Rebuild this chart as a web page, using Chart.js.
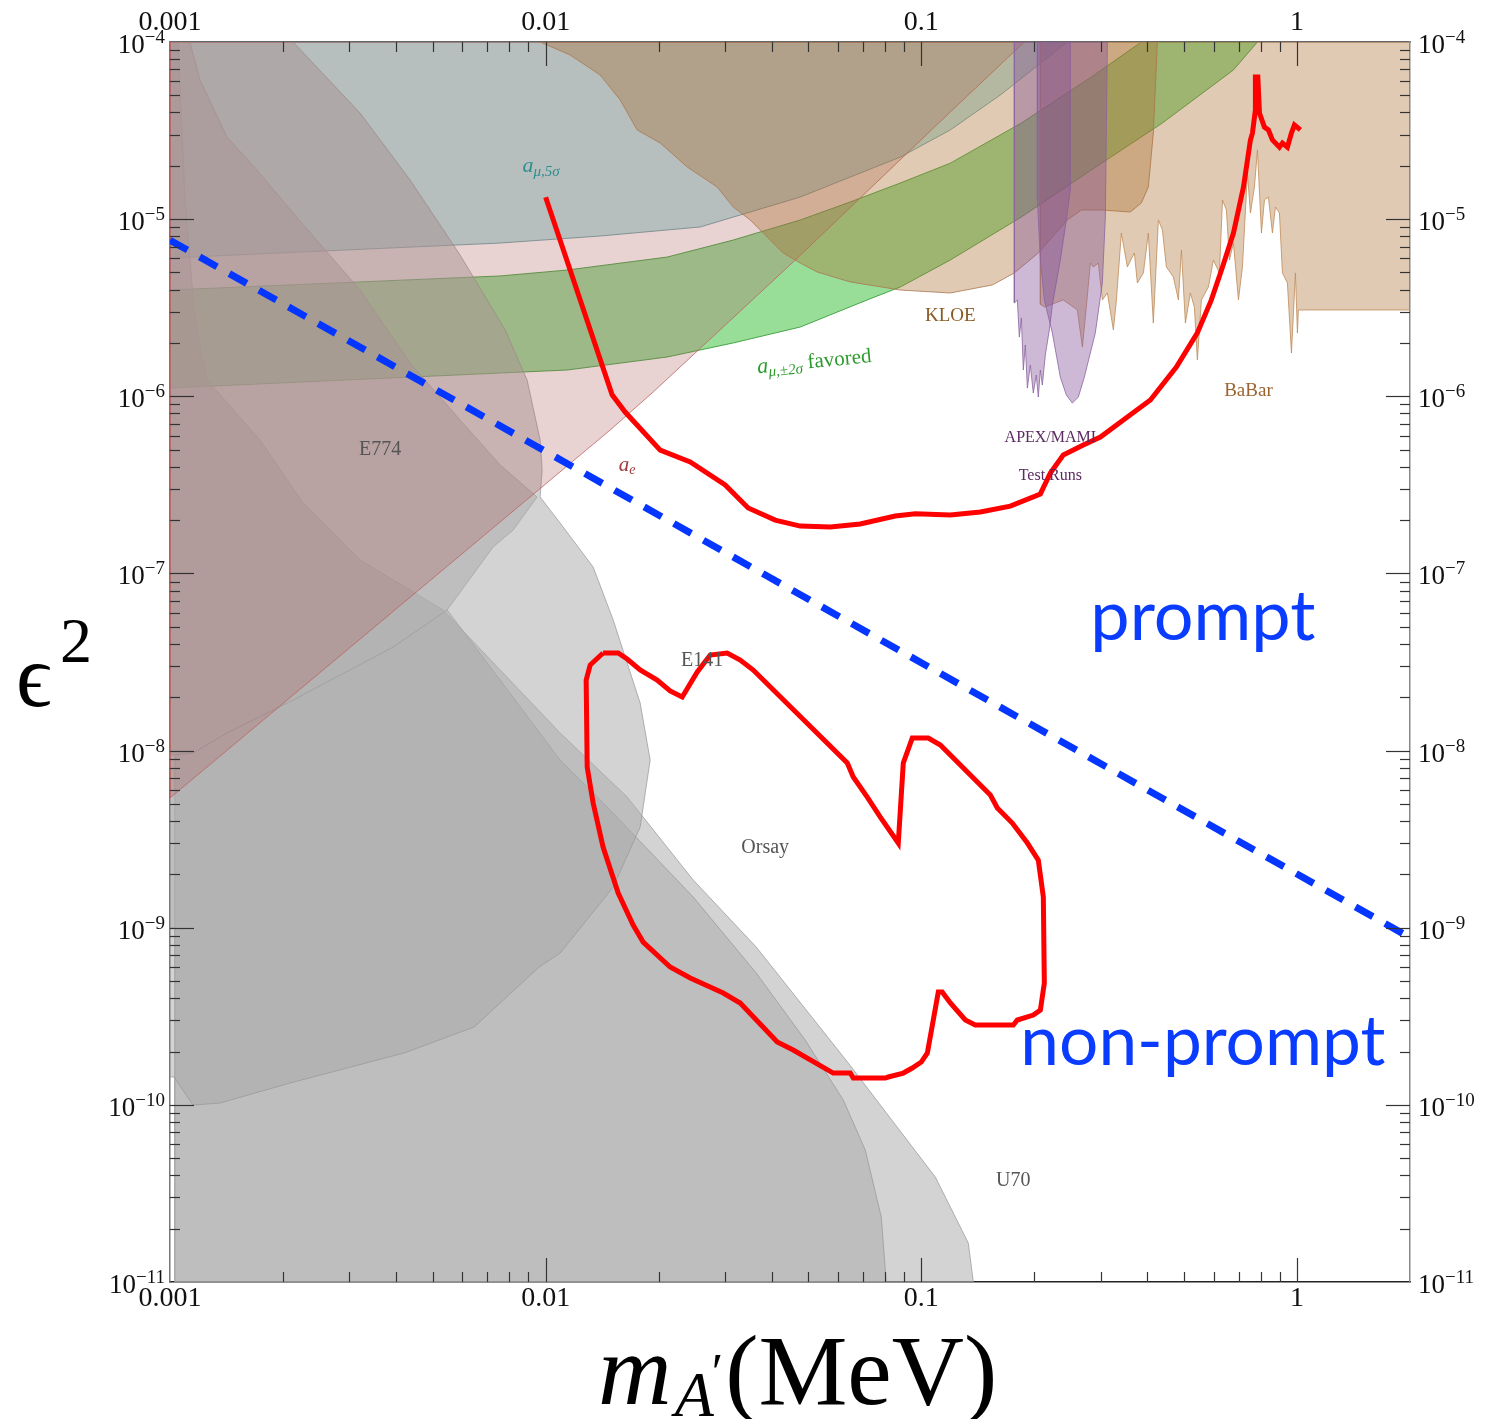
<!DOCTYPE html>
<html><head><meta charset="utf-8">
<script src="https://cdn.jsdelivr.net/npm/chart.js@4.4.1/dist/chart.umd.min.js"></script>
<style>html,body{margin:0;padding:0;background:#fff;}canvas{display:block;}</style>
</head><body>
<canvas id="c" width="1503" height="1419"></canvas>
<script>
// ---------- data: [mass, eps^2] pairs ----------
const MASS_RANGE = [0.001, 2];
const EPS_RANGE = [1e-11, 1e-4];
const MASS_TICK_LABELS = ['0.001', '0.01', '0.1', '1'];
const MASS_TICKS = [0.001, 0.01, 0.1, 1];
const EPS_TICK_EXPONENTS = [-4, -5, -6, -7, -8, -9, -10, -11];

const BEAMDUMP_OUTER = [[0.001,1e-4],[0.00105,1e-4],[0.001096,1.283e-5],[0.001166,2.7e-6],[0.001255,1.235e-6],[0.001736,5.66e-7],[0.00226,2.5e-7],[0.003206,1.19e-7],[0.005334,6.22e-8],[0.007566,2.849e-8],[0.01093,1.257e-8],[0.01648,5.47e-9],[0.02471,1.859e-9],[0.03636,7.78e-10],[0.06393,1.722e-10],[0.109,3.91e-11],[0.1334,1.66e-11],[0.1376,1e-11],[0.00103,1e-11],[0.00103,1e-9],[0.001,1e-9],[0.001,1e-4]];
const BEAMDUMP_INNER = [[0.00103,9.44e-9],[0.001151,9.69e-9],[0.001418,1.257e-8],[0.002126,1.929e-8],[0.003925,3.84e-8],[0.005467,6.22e-8],[0.007566,2.502e-8],[0.01093,8.84e-9],[0.01485,4.62e-9],[0.02471,1.49e-9],[0.03636,5.55e-10],[0.0491,2.32e-10],[0.06199,1.065e-10],[0.07094,5.56e-11],[0.07825,2.33e-11],[0.08068,1e-11],[0.00103,1e-11],[0.00103,9.44e-9]];
const E774 = [[0.001,1e-4],[0.00113,1e-4],[0.001202,6.1e-5],[0.001418,2.91e-5],[0.001704,1.894e-5],[0.002126,1.083e-5],[0.003206,3.98e-6],[0.004356,1.541e-6],[0.00592,7.35e-7],[0.007566,4.09e-7],[0.009492,2.7e-7],[0.008196,1.758e-7],[0.007249,1.41e-7],[0.005467,6.22e-8],[0.003925,3.84e-8],[0.002126,1.929e-8],[0.001418,1.257e-8],[0.001151,9.69e-9],[0.001,9.44e-9],[0.001,1e-4]];
const E141 = [[0.001,1e-4],[0.002126,1e-4],[0.003206,3.97e-5],[0.004356,1.663e-5],[0.00592,6.27e-6],[0.007801,2.37e-6],[0.008926,1.235e-6],[0.009669,5.66e-7],[0.009788,3.84e-7],[0.009669,2.7e-7],[0.01093,1.926e-7],[0.01338,1.087e-7],[0.01513,5.46e-8],[0.01785,1.855e-8],[0.01898,8.84e-9],[0.01785,3.7e-9],[0.01513,1.697e-9],[0.01093,7.2e-10],[0.009609,6.0e-10],[0.00645,2.75e-10],[0.0042,1.962e-10],[0.002087,1.328e-10],[0.001359,1.024e-10],[0.001151,9.98e-11],[0.001025,1.436e-10],[0.001,1.436e-10],[0.001,1e-4]];

const AMU_FAVORED_UPPER = [[0.001,3.98e-6],[0.007566,4.78e-6],[0.01141,5.16e-6],[0.02107,6.11e-6],[0.03157,7.62e-6],[0.04762,9.89e-6],[0.0647,1.25e-5],[0.08794,1.6e-5],[0.1195,2.07e-5],[0.1847,3.49e-5],[0.2836,6.34e-5],[0.3853,1e-4]];
const AMU_FAVORED_LOWER = [[0.7851,1e-4],[0.6776,6.95e-5],[0.4384,3.49e-5],[0.2836,1.894e-5],[0.1847,1.028e-5],[0.1195,5.88e-6],[0.08794,4.14e-6],[0.07181,3.5e-6],[0.04762,2.46e-6],[0.03157,2.0e-6],[0.02107,1.666e-6],[0.01141,1.407e-6],[0.007566,1.353e-6],[0.001,1.113e-6]];
const AE_EXCLUDED = [[0.001,5.4e-9],[0.01485,6.45e-7],[0.01933,1.057e-6],[0.04561,5.73e-6],[0.1195,4.03e-5],[0.1881,1e-4],[0.001,1e-4],[0.001,5.4e-9]];
const AMU_5SIGMA = [[0.001,6.03e-6],[0.002219,6.52e-6],[0.007566,7.33e-6],[0.01397,8.03e-6],[0.02579,9.03e-6],[0.04762,1.333e-5],[0.08794,2.24e-5],[0.1195,3.19e-5],[0.1623,5.02e-5],[0.2447,1e-4],[0.001,1e-4],[0.001,6.03e-6]];
const KLOE = [[0.009669,1e-4],[0.01162,8.45e-5],[0.01397,6.51e-5],[0.01579,4.71e-5],[0.01752,3.19e-5],[0.02018,2.69e-5],[0.02382,1.97e-5],[0.02862,1.518e-5],[0.03157,1.171e-5],[0.03505,9.89e-6],[0.0389,7.93e-6],[0.0429,6.44e-6],[0.04762,5.65e-6],[0.05284,5.03e-6],[0.0647,4.42e-6],[0.08794,3.98e-6],[0.1195,3.83e-6],[0.1546,4.25e-6],[0.1769,4.97e-6],[0.2049,6.44e-6],[0.2447,9.89e-6],[0.2668,1.126e-5],[0.3034,1.126e-5],[0.3602,1.097e-5],[0.3853,1.234e-5],[0.4022,1.518e-5],[0.4147,3.06e-5],[0.4251,1e-4],[0.009669,1e-4]];
const BABAR = [[0.2075,1e-4],[0.2075,3.3e-6],[0.2126,3.19e-6],[0.2388,3.5e-6],[0.2493,3.28e-6],[0.2603,3.07e-6],[0.2685,1.897e-6],[0.275,3.19e-6],[0.2819,5.65e-6],[0.2871,5.37e-6],[0.2961,5.65e-6],[0.3034,3.5e-6],[0.3129,3.83e-6],[0.3246,2.37e-6],[0.3307,3.5e-6],[0.3409,8.35e-6],[0.3537,5.37e-6],[0.3692,6.44e-6],[0.3761,4.36e-6],[0.3902,4.97e-6],[0.4022,8.35e-6],[0.4147,2.59e-6],[0.4278,9.89e-6],[0.4384,8.69e-6],[0.4493,5.37e-6],[0.469,4.71e-6],[0.4836,3.5e-6],[0.4926,6.69e-6],[0.5048,2.59e-6],[0.5205,3.83e-6],[0.5333,3.19e-6],[0.5432,1.602e-6],[0.5568,3.5e-6],[0.5812,4.14e-6],[0.5993,5.88e-6],[0.6218,4.97e-6],[0.6337,1.283e-5],[0.6491,1.126e-5],[0.6612,5.88e-6],[0.6777,7.33e-6],[0.6987,3.5e-6],[0.7161,5.37e-6],[0.7384,1.822e-5],[0.752,1.083e-5],[0.7707,1.518e-5],[0.7851,2.46e-5],[0.8046,8.35e-6],[0.8194,1.283e-5],[0.8395,1.333e-5],[0.8606,8.35e-6],[0.8765,1.171e-5],[0.8984,1.083e-5],[0.915,4.97e-6],[0.9434,4.36e-6],[0.967,1.755e-6],[0.9909,4.97e-6],[1.003,2.28e-6],[1.009,3.07e-6],[2.0,3.07e-6],[2.0,1e-4],[0.2075,1e-4]];
const APEX_SPIKY = [[0.1769,1e-4],[0.1769,3.36e-6],[0.1802,3.5e-6],[0.1824,2.16e-6],[0.1847,2.77e-6],[0.1869,1.407e-6],[0.1892,1.948e-6],[0.1916,1.113e-6],[0.1951,1.502e-6],[0.1987,1.043e-6],[0.2024,1.318e-6],[0.2049,9.9e-7],[0.2075,1.407e-6],[0.21,1.158e-6],[0.2139,1.71e-6],[0.2192,2.37e-6],[0.2233,3.28e-6],[0.2345,5.88e-6],[0.2433,9.89e-6],[0.2493,1.461e-5],[0.2493,1e-4],[0.1769,1e-4]];
const APEX_OVAL = [[0.2037,1e-4],[0.2037,1.283e-5],[0.2075,5.88e-6],[0.2126,3.5e-6],[0.2233,2.28e-6],[0.2345,1.284e-6],[0.2433,1.017e-6],[0.2524,9.16e-7],[0.2619,9.9e-7],[0.2717,1.284e-6],[0.2906,2.28e-6],[0.3034,4.36e-6],[0.309,1.028e-5],[0.3129,1e-4],[0.2037,1e-4]];

const REACH_PROMPT = [[0.01,1.33e-5],[0.01503,1.02e-6],[0.01628,8.15e-7],[0.02018,4.97e-7],[0.02426,4.26e-7],[0.03006,3.16e-7],[0.03461,2.34e-7],[0.04084,2.0e-7],[0.04762,1.85e-7],[0.05725,1.83e-7],[0.06879,1.9e-7],[0.08524,2.11e-7],[0.0964,2.17e-7],[0.1195,2.14e-7],[0.1436,2.22e-7],[0.1726,2.4e-7],[0.2075,2.81e-7],[0.2206,3.69e-7],[0.2388,4.66e-7],[0.27,5.31e-7],[0.2998,5.89e-7],[0.3451,7.35e-7],[0.4073,9.53e-7],[0.4776,1.463e-6],[0.5432,2.28e-6],[0.5919,3.5e-6],[0.6337,5.37e-6],[0.6777,8.35e-6],[0.7206,1.518e-5],[0.752,2.8e-5],[0.7614,3.06e-5],[0.7752,4.13e-5],[0.7752,6.34e-5],[0.787,6.34e-5],[0.7949,3.97e-5],[0.8194,3.31e-5],[0.8395,3.19e-5],[0.8606,2.8e-5],[0.8984,2.55e-5],[0.915,2.69e-5],[0.9434,2.55e-5],[0.967,3.06e-5],[0.9848,3.4e-5],[1.0217,3.19e-5]];
const REACH_DISPLACED = [[0.01422,3.555e-8],[0.0156,3.555e-8],[0.01648,3.287e-8],[0.01785,2.849e-8],[0.01981,2.502e-8],[0.02145,2.169e-8],[0.0231,2.006e-8],[0.02533,2.776e-8],[0.02742,3.463e-8],[0.03043,3.555e-8],[0.03296,3.245e-8],[0.0357,2.849e-8],[0.06354,8.506e-9],[0.06591,7.09e-9],[0.07181,5.466e-9],[0.07779,4.214e-9],[0.08685,3.006e-9],[0.08956,8.506e-9],[0.09463,1.177e-8],[0.1044,1.177e-8],[0.1124,1.075e-8],[0.1527,5.61e-9],[0.1594,4.739e-9],[0.1747,3.899e-9],[0.1916,3.006e-9],[0.2049,2.41e-9],[0.2113,1.49e-9],[0.2126,4.873e-10],[0.2075,3.43e-10],[0.1987,3.215e-10],[0.1802,3.013e-10],[0.1758,2.823e-10],[0.1392,2.823e-10],[0.131,3.013e-10],[0.1195,3.757e-10],[0.1137,4.335e-10],[0.111,4.335e-10],[0.1038,1.962e-10],[0.1,1.745e-10],[0.09463,1.614e-10],[0.08956,1.512e-10],[0.08168,1.436e-10],[0.08019,1.417e-10],[0.06591,1.417e-10],[0.0647,1.512e-10],[0.05829,1.512e-10],[0.04561,2.04e-10],[0.04136,2.263e-10],[0.03296,3.757e-10],[0.0297,4.279e-10],[0.02426,5.2e-10],[0.02145,6.0e-10],[0.01818,8.3e-10],[0.0171,1.035e-9],[0.0156,1.57e-9],[0.01422,2.855e-9],[0.01338,5.058e-9],[0.0129,8.07e-9],[0.01282,2.502e-8],[0.01314,3.041e-8],[0.01422,3.555e-8]];
const PROMPT_DIVIDER = [[0.001,7.6e-6],[2.0,8.8e-10]];

// ---------- text annotations (anchored in data coordinates) ----------
const REGION_LABELS = [
  {runs:[['E774','r',20]], m:0.003625, e:4.97e-7, color:'#555555'},
  {runs:[['E141','r',20]], m:0.02611, e:3.2e-8, color:'#555555'},
  {runs:[['Orsay','r',20]], m:0.03842, e:2.82e-9, color:'#555555'},
  {runs:[['U70','r',20]], m:0.1758, e:3.72e-11, color:'#555555'},
  {runs:[['KLOE','r',19]], m:0.1195, e:2.84e-6, color:'#8b5a24'},
  {runs:[['BaBar','r',19]], m:0.7429, e:1.071e-6, color:'#9a6530'},
  {runs:[['APEX/MAMI','r',16]], m:0.2206, e:5.81e-7, color:'#5a2a60'},
  {runs:[['Test Runs','r',16]], m:0.2206, e:3.55e-7, color:'#5a2a60'},
  {runs:[['a','i',22,0],['μ,5σ','i',15,6]], m:0.00973, e:2.0e-5, color:'#2f8f8f'},
  {runs:[['a','i',21,0],['e','i',14,5]], m:0.01648, e:4.09e-7, color:'#a03a3a'},
  {runs:[['a','i',22,0],['μ,±2σ','i',15,6],[' favored','r',21,0]], m:0.0519, e:1.56e-6, color:'#2d9a2d', rot:-0.095},
];
const REGIME_LABELS = [
  {text:'prompt', m:0.2818, e:4.21e-8, width:225},
  {text:'non-prompt', m:0.1835, e:1.679e-10, width:365},
];

const SERIF = '"Liberation Serif","Times New Roman",serif';
const pts = a => a.map(([x, y]) => ({x, y}));

function region(data, fillColor, lineColor, order) {
  return {data: pts(data), showLine: true, fill: 'shape', backgroundColor: fillColor,
    borderColor: lineColor, borderWidth: 1, pointRadius: 0, tension: 0, order};
}
const GRAY = 'rgba(171,171,171,0.52)', GRAY_EDGE = 'rgba(150,150,150,0.7)';

const datasets = [
  region(AMU_FAVORED_UPPER.concat(AMU_FAVORED_LOWER, [AMU_FAVORED_UPPER[0]]), 'rgba(49,187,49,0.5)', 'rgba(40,150,40,0.8)', 100),
  region(AMU_5SIGMA, 'rgba(83,185,185,0.4)', 'rgba(90,150,155,0.8)', 95),
  region(BEAMDUMP_OUTER, GRAY, GRAY_EDGE, 90),
  region(BEAMDUMP_INNER, GRAY, GRAY_EDGE, 89),
  region(E774, GRAY, GRAY_EDGE, 88),
  region(E141, GRAY, GRAY_EDGE, 87),
  region(AE_EXCLUDED, 'rgba(170,90,90,0.27)', 'rgba(190,100,100,0.8)', 80),
  region(KLOE, 'rgba(170,110,50,0.37)', 'rgba(170,120,80,0.8)', 70),
  region(BABAR, 'rgba(170,110,50,0.37)', 'rgba(190,140,90,0.8)', 69),
  region(APEX_SPIKY, 'rgba(130,80,150,0.4)', 'rgba(140,100,160,0.8)', 60),
  region(APEX_OVAL, 'rgba(130,80,150,0.4)', 'rgba(140,100,160,0.8)', 59),
  {data: pts(REACH_PROMPT), showLine: true, fill: false, borderColor: '#ff0000', borderWidth: 5, pointRadius: 0, tension: 0, order: 20},
  {data: pts(REACH_DISPLACED), showLine: true, fill: false, borderColor: '#ff0000', borderWidth: 5, pointRadius: 0, tension: 0, order: 19},
  {data: pts(PROMPT_DIVIDER), showLine: true, fill: false, borderColor: '#0536ff', borderWidth: 7, borderDash: [20, 14], pointRadius: 0, tension: 0, order: 10},
];

const massLabel = v => { const i = MASS_TICKS.findIndex(t => Math.abs(t - v) / t < 1e-6); return i >= 0 ? MASS_TICK_LABELS[i] : ''; };

function drawRuns(ctx, runs, x, y, align) {
  let w = 0;
  const rs = runs.map(([t, st, size, dy]) => {
    const font = (st === 'i' ? 'italic ' : '') + size + 'px ' + SERIF;
    ctx.font = font; const rw = ctx.measureText(t).width; w += rw;
    return {t, font, rw, dy: dy || 0};
  });
  let cx = align === 'center' ? x - w / 2 : (align === 'right' ? x - w : x);
  for (const r of rs) { ctx.font = r.font; ctx.fillText(r.t, cx, y + r.dy); cx += r.rw; }
}

const decor = {
  id: 'decor',
  afterDatasetsDraw(chart) {
    const ctx = chart.ctx, xs = chart.scales.x, ys = chart.scales.y;
    ctx.save();
    ctx.textBaseline = 'middle'; ctx.textAlign = 'left';
    for (const L of REGION_LABELS) {
      const px = xs.getPixelForValue(L.m), py = ys.getPixelForValue(L.e);
      ctx.fillStyle = L.color;
      ctx.save(); ctx.translate(px, py); if (L.rot) ctx.rotate(L.rot);
      drawRuns(ctx, L.runs, 0, 0, 'center');
      ctx.restore();
    }
    ctx.fillStyle = '#0a3cff'; ctx.textBaseline = 'alphabetic';
    for (const L of REGIME_LABELS) {
      ctx.font = '100px Lato, "Open Sans", sans-serif';
      const s = 100 * L.width / ctx.measureText(L.text).width;
      ctx.font = s.toFixed(1) + 'px Lato, "Open Sans", sans-serif';
      ctx.fillText(L.text, xs.getPixelForValue(L.m), ys.getPixelForValue(L.e));
    }
    ctx.restore();
  },
  afterDraw(chart) {
    const ctx = chart.ctx, a = chart.chartArea, xs = chart.scales.x, ys = chart.scales.y;
    ctx.save();
    ctx.strokeStyle = '#333'; ctx.lineWidth = 1.2;
    const line = (x1, y1, x2, y2) => { ctx.beginPath(); ctx.moveTo(x1, y1); ctx.lineTo(x2, y2); ctx.stroke(); };
    for (let d = -3; d <= 0; d++) for (let k = 1; k <= 9; k++) {
      const v = k * Math.pow(10, d); if (v > MASS_RANGE[1] * 0.999) break;
      const px = Math.round(xs.getPixelForValue(v)) + 0.5, L = k === 1 ? 24 : 10;
      if (px <= a.left + 1) continue;
      line(px, a.bottom, px, a.bottom - L); line(px, a.top, px, a.top + L);
    }
    for (let d = -11; d <= -4; d++) for (let k = 1; k <= 9; k++) {
      const v = k * Math.pow(10, d); if (v > EPS_RANGE[1] * 1.001) break;
      const py = Math.round(ys.getPixelForValue(v)) + 0.5, L = k === 1 ? 24 : 10;
      if (py >= a.bottom - 1 || py <= a.top + 1) continue;
      line(a.left, py, a.left + L, py); line(a.right, py, a.right - L, py);
    }
    // y tick labels 10^n
    ctx.fillStyle = '#111'; ctx.textBaseline = 'alphabetic'; ctx.textAlign = 'left';
    for (const n of EPS_TICK_EXPONENTS) {
      const py = ys.getPixelForValue(Math.pow(10, n));
      const sup = '\u2212' + (-n);
      ctx.font = '27px ' + SERIF; const wb = ctx.measureText('10').width;
      ctx.font = '19px ' + SERIF; const ws = ctx.measureText(sup).width;
      const xl = a.left - 5 - wb - ws;
      ctx.font = '27px ' + SERIF; ctx.fillText('10', xl, py + 11);
      ctx.font = '19px ' + SERIF; ctx.fillText(sup, xl + wb, py + 1);
      const xr = a.right + 8;
      ctx.font = '27px ' + SERIF; ctx.fillText('10', xr, py + 11);
      ctx.font = '19px ' + SERIF; ctx.fillText(sup, xr + wb, py + 1);
    }
    // axis titles
    ctx.fillStyle = '#000';
    ctx.font = '88px ' + SERIF; ctx.fillText('\u03f5', 16, 706);
    ctx.font = '64px ' + SERIF; ctx.fillText('2', 60, 662);
    let x = 598;
    ctx.font = 'italic 102px ' + SERIF; ctx.fillText('m', x, 1404); x += ctx.measureText('m').width + 3;
    ctx.font = 'italic 64px ' + SERIF; ctx.fillText('A', x, 1416); x += ctx.measureText('A').width;
    ctx.font = '52px ' + SERIF; ctx.fillText('\u2032', x - 2, 1390); x += ctx.measureText('\u2032').width;
    ctx.font = '100px ' + SERIF; ctx.fillText('(MeV)', x, 1404);
    ctx.restore();
  }
};

const axisCommon = (pos, range) => ({
  type: 'logarithmic', position: pos, min: range[0], max: range[1],
  grid: {display: false, drawTicks: false},
});

new Chart(document.getElementById('c'), {
  type: 'scatter',
  data: {datasets},
  options: {
    responsive: false, animation: false, devicePixelRatio: 1,
    layout: {padding: 0},
    plugins: {legend: {display: false}, tooltip: {enabled: false}},
    scales: {
      x: Object.assign(axisCommon('bottom', MASS_RANGE), {
        border: {display: true, color: '#222', width: 1.5},
        ticks: {autoSkip: false, maxRotation: 0, padding: 0, color: '#111', font: {family: SERIF, size: 28}, callback: v => massLabel(v)},
        afterFit: s => { s.height = 137; }
      }),
      x2: Object.assign(axisCommon('top', MASS_RANGE), {
        border: {display: true, color: '#666', width: 1.5},
        ticks: {autoSkip: false, maxRotation: 0, padding: 3, color: '#111', font: {family: SERIF, size: 28}, callback: v => massLabel(v)},
        afterFit: s => { s.height = 42; }
      }),
      y: Object.assign(axisCommon('left', EPS_RANGE), {
        border: {display: true, color: '#777', width: 1.5},
        ticks: {display: false},
        afterFit: s => { s.width = 170; }
      }),
      y2: Object.assign(axisCommon('right', EPS_RANGE), {
        border: {display: true, color: '#888', width: 1.5},
        ticks: {display: false},
        afterFit: s => { s.width = 93; }
      }),
    }
  },
  plugins: [decor]
});
</script>
</body></html>
